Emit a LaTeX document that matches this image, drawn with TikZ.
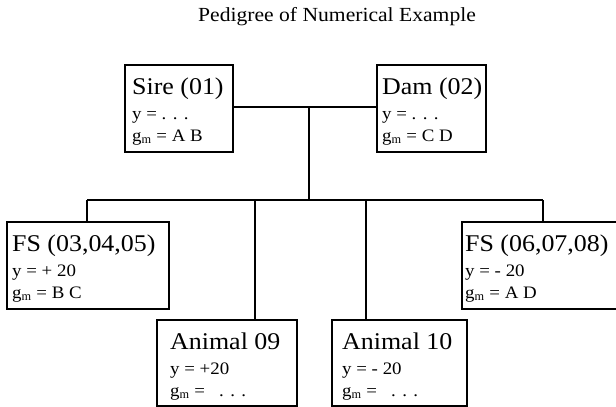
\documentclass[tikz,border=0pt]{standalone}
\usepackage{fontspec}
\setmainfont{Liberation Serif}
\newfontfamily\widefont[FakeStretch=1.08]{Liberation Serif}
\usetikzlibrary{calc}
\tikzset{
  boxst/.style={draw=black, line width=1.6pt, rectangle, inner sep=0pt, outer sep=0pt, anchor=north west},
  headst/.style={font=\widefont\fontsize{24}{24}\selectfont, inner sep=0pt, anchor=base west},
  rowst/.style={font=\widefont\fontsize{17.5}{17.5}\selectfont, inner sep=0pt, anchor=base west},
  link/.style={draw=black, line width=1.4pt}
}
\newcommand\pedbox[9]{%
  \node[boxst, minimum width={#4pt-#2pt}, minimum height={#5pt-#3pt}] (#1) at (#2,#3) {};
  \node[headst] (#1h) at ($(#1.north west)+(#9,29)$) {#6};
  \node[rowst] (#1y) at ($(#1.north west)+(#9,54)$) {#7};
  \node[rowst] (#1g) at ($(#1.north west)+(#9,76)$) {#8};
}
\begin{document}
\begin{tikzpicture}[x=1pt,y=-1pt]
\useasboundingbox[fill=white] (0,0) rectangle (616,407);
\node[font=\widefont\fontsize{20}{20}\selectfont, anchor=base west, inner sep=0pt] (title) at (198,21) {Pedigree of Numerical Example};
\pedbox{sire}{125}{65}{233}{152}{Sire (01)}{y = . . .}{g$_\mathrm{m}$ = A B}{7}
\pedbox{dam}{377}{65}{486}{152}{Dam (02)}{y = . . .}{g$_\mathrm{m}$ = C D}{5}
\pedbox{fsl}{7}{222}{169}{309}{FS (03,04,05)}{y = + 20}{g$_\mathrm{m}$ = B C}{5}
\pedbox{fsr}{462}{222}{620}{309}{FS (06,07,08)}{y = - 20}{g$_\mathrm{m}$ = A D}{3}
\pedbox{ani}{157}{320}{297}{406}{Animal 09}{y = +20}{g$_\mathrm{m}$ = \ \ . . .}{13}
\pedbox{anj}{332}{320}{467}{406}{Animal 10}{y = - 20}{g$_\mathrm{m}$ = \ \ . . .}{10}
\coordinate (pj) at (309,107);
\coordinate (hub) at (309,200);
\coordinate (hl) at (87,200);
\coordinate (hr) at (543,200);
\coordinate (ha) at (255,200);
\coordinate (hb) at (366,200);
\draw[link] (sire.east |- pj) -- (dam.west |- pj);
\draw[link] (pj) -- (hub);
\draw[link] (hl) -- (hr);
\draw[link] (hl) -- (hl |- fsl.north);
\draw[link] (hr) -- (hr |- fsr.north);
\draw[link] (ha) -- (ha |- ani.north);
\draw[link] (hb) -- (hb |- anj.north);
\end{tikzpicture}
\end{document}
